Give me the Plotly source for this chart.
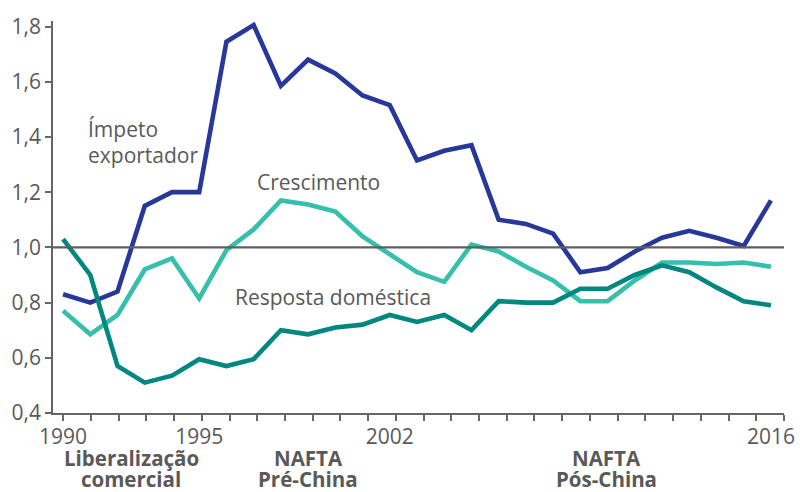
import plotly.graph_objects as go

years = list(range(1990, 2017))

impeto = [0.83, 0.80, 0.84, 1.15, 1.20, 1.20, 1.745, 1.805, 1.585, 1.68, 1.63, 1.55, 1.515,
          1.315, 1.35, 1.37, 1.10, 1.085, 1.05, 0.91, 0.925, 0.985, 1.035, 1.06, 1.035, 1.005, 1.17]
crescimento = [0.77, 0.685, 0.755, 0.92, 0.96, 0.815, 0.99, 1.065, 1.17, 1.155, 1.13, 1.04, 0.975,
               0.91, 0.875, 1.01, 0.985, 0.93, 0.88, 0.805, 0.805, 0.88, 0.945, 0.945, 0.94, 0.945, 0.93]
resposta = [1.03, 0.90, 0.57, 0.51, 0.535, 0.595, 0.57, 0.595, 0.70, 0.685, 0.71, 0.72, 0.755,
            0.73, 0.755, 0.70, 0.805, 0.80, 0.80, 0.85, 0.85, 0.90, 0.935, 0.91, 0.855, 0.805, 0.79]

tick_years = [1990, 1995, 2002, 2016]
y_ticks = [0.4, 0.6, 0.8, 1.0, 1.2, 1.4, 1.6, 1.8]

series_colors = ["#28389a", "#36bfaa", "#00877f"]

period_line1 = ["Liberalização", "NAFTA", "NAFTA"]
period_line2 = ["comercial", "Pré-China", "Pós-China"]
period_x = [1992.5, 1999.0, 2009.95]

TXT = "#595959"
FONT = "Open Sans"
FS = 21

fig = go.Figure()

for vals, col in zip([impeto, crescimento, resposta], series_colors):
    fig.add_trace(go.Scatter(x=years, y=vals, mode="lines",
                             line=dict(color=col, width=4.6), showlegend=False,
                             hoverinfo="skip"))

# invisible trace so the tick axis is drawn
fig.add_trace(go.Scatter(x=[years[0]], y=[1.0], xaxis="x2", mode="markers",
                         marker=dict(opacity=0), showlegend=False, hoverinfo="skip"))

fig.add_shape(type="line", xref="paper", yref="y", x0=0, x1=1, y0=1.0, y1=1.0,
              line=dict(color="#5e5e5e", width=2.2), layer="above")

lbl = dict(showarrow=False, xanchor="left", yanchor="middle",
           font=dict(family=FONT, size=FS, color=TXT))
fig.add_annotation(x=1990.83, y=1.43, xref="x", yref="y", text="Ímpeto", **lbl)
fig.add_annotation(x=1990.83, y=1.336, xref="x", yref="y", text="exportador", **lbl)
fig.add_annotation(x=1997.05, y=1.238, xref="x", yref="y", text="Crescimento", **lbl)
fig.add_annotation(x=1996.24, y=0.82, xref="x", yref="y", text="Resposta doméstica", **lbl)

for l1, l2, px in zip(period_line1, period_line2, period_x):
    for txt, yy in ((l1, -0.114), (l2, -0.168)):
        fig.add_annotation(x=px, y=yy, xref="x", yref="paper", text="<b>%s</b>" % txt,
                           showarrow=False, xanchor="center", yanchor="middle",
                           font=dict(family=FONT, size=20.5, color=TXT))

fig.update_layout(
    width=807, height=492,
    margin=dict(l=49, r=16, t=17, b=79),
    paper_bgcolor="white", plot_bgcolor="white",
    separators=", ",
    font=dict(family=FONT, size=FS, color=TXT),
    xaxis=dict(range=[1989.63, 2016.48], tickvals=tick_years, ticktext=[str(t) for t in tick_years],
               ticks="outside", ticklen=5, tickcolor="rgba(0,0,0,0)", showline=False,
               showgrid=False, zeroline=False,
               tickfont=dict(family=FONT, size=FS, color=TXT)),
    xaxis2=dict(range=[1989.634, 2016.0], overlaying="x", anchor="y", side="bottom",
                dtick=1, tick0=1990, ticks="outside", ticklen=6, tickwidth=1.5, tickcolor="#666666",
                showticklabels=False, showline=True, linecolor="#666666", linewidth=1.5,
                showgrid=False, zeroline=False),
    yaxis=dict(range=[0.4, 1.82], tickvals=y_ticks, tickformat=".1f",
               ticks="outside", ticklen=6, tickwidth=1.5, tickcolor="#666666",
               showline=True, linecolor="#666666", linewidth=1.5,
               showgrid=False, zeroline=False,
               tickfont=dict(family=FONT, size=FS, color=TXT)),
)

fig.write_html("out.html", config={"displayModeBar": False},
               post_script="document.body.style.margin='0';")
